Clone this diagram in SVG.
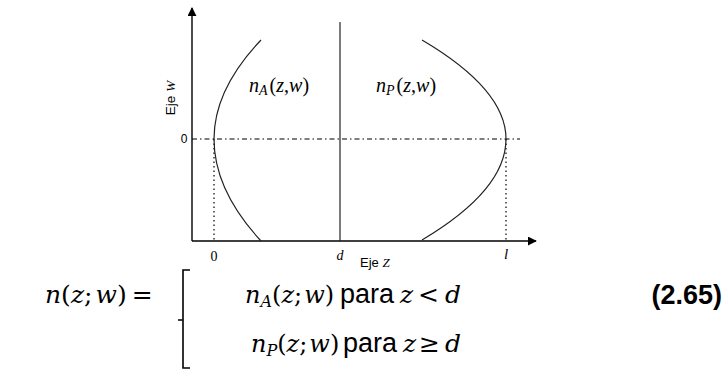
<svg xmlns="http://www.w3.org/2000/svg" width="726" height="379" viewBox="0 0 726 379">
<defs>
<marker id="arr" viewBox="0 0 10 10" refX="9" refY="5" markerWidth="9" markerHeight="9" markerUnits="userSpaceOnUse" orient="auto">
<path d="M0,0 L10,5 L0,10 z" fill="#000"/>
</marker>
</defs>
<style>
.ax{stroke:#000;stroke-width:1.4;fill:none}
.cv{stroke:#222;stroke-width:1.2;fill:none}
.dd{stroke:#000;stroke-width:1.2;fill:none;stroke-dasharray:5 3 1.5 3}
.dt{stroke:#000;stroke-width:1.2;fill:none;stroke-dasharray:1.5 3}
.m{font-family:"Liberation Serif",serif;font-style:italic;fill:#000}
.r{font-family:"Liberation Serif",serif;fill:#000}
.em{font-family:"DejaVu Serif",serif;font-style:italic;fill:#000}
.er{font-family:"DejaVu Serif",serif;fill:#000}
.s{font-family:"Liberation Sans",Arial,sans-serif;fill:#000}
.b{font-family:"Liberation Sans",Arial,sans-serif;font-weight:bold;fill:#000}
</style>
<g id="axes">
<line class="ax" x1="192" y1="241" x2="192" y2="8" marker-end="url(#arr)"/>
<line class="ax" x1="192" y1="241" x2="536" y2="241" marker-end="url(#arr)"/>
<line class="dd" x1="192" y1="139" x2="520" y2="139"/>
<line class="dt" x1="214" y1="139" x2="214" y2="241"/>
<line class="dt" x1="506" y1="139" x2="506" y2="241"/>
<line class="cv" x1="340" y1="22" x2="340" y2="241"/>
</g>
<g id="curveA">
<path class="cv" d="M261,40 Q214,89.5 214,139 Q214,190 261,241"/>
</g>
<g id="curveP">
<path class="cv" d="M422,40 Q506,89.5 506,139 Q506,190 422,240"/>
</g>
<g id="labels">
<text class="s" x="184" y="143" font-size="12" text-anchor="middle">0</text>
<text transform="translate(175,98) rotate(-90)" text-anchor="middle" font-size="13.5"><tspan class="s">Eje </tspan><tspan class="m">W</tspan></text>
<text class="r" x="214" y="261" font-size="14" text-anchor="middle">0</text>
<text class="m" x="340" y="260" font-size="14" text-anchor="middle">d</text>
<text x="360" y="267" font-size="13"><tspan class="s">Eje </tspan><tspan class="m">Z</tspan></text>
<text class="m" x="506" y="259" font-size="15" text-anchor="middle">l</text>
<text x="249" y="92" font-size="20"><tspan class="m">n</tspan><tspan class="m" font-size="14" dy="3">A</tspan><tspan class="r" dy="-3" dx="2">(</tspan><tspan class="m">z</tspan><tspan class="r">,</tspan><tspan class="m">w</tspan><tspan class="r">)</tspan></text>
<text x="376" y="92" font-size="20"><tspan class="m">n</tspan><tspan class="m" font-size="14" dy="3">P</tspan><tspan class="r" dy="-3" dx="2">(</tspan><tspan class="m">z</tspan><tspan class="r">,</tspan><tspan class="m">w</tspan><tspan class="r">)</tspan></text>
</g>
<g id="equation">
<text x="45" y="303" font-size="25"><tspan class="em">n</tspan><tspan class="er">(</tspan><tspan class="em">z</tspan><tspan class="er">;</tspan><tspan class="em" dx="3">w</tspan><tspan class="er">)</tspan><tspan class="er" dx="5">=</tspan></text>
<path d="M190,270 H183 V368 H190 M183,320 H178" stroke="#000" stroke-width="1.6" fill="none"/>
<text x="245" y="303" font-size="24"><tspan class="em">n</tspan><tspan class="em" font-size="16" dy="4">A</tspan><tspan class="er" dy="-4">(</tspan><tspan class="em">z</tspan><tspan class="er">;</tspan><tspan class="em" dx="2">w</tspan><tspan class="er">)</tspan></text>
<text class="s" x="340" y="303" font-size="27">para</text>
<text class="em" x="400" y="303" font-size="25">z</text>
<text class="er" x="418" y="303" font-size="25">&lt;</text>
<text class="em" x="445" y="303" font-size="25">d</text>
<text x="251" y="352" font-size="24"><tspan class="em">n</tspan><tspan class="em" font-size="16" dy="4">P</tspan><tspan class="er" dy="-4">(</tspan><tspan class="em">z</tspan><tspan class="er">;</tspan><tspan class="em" dx="2">w</tspan><tspan class="er">)</tspan></text>
<text class="s" x="343" y="352" font-size="27">para</text>
<text class="em" x="403" y="352" font-size="25">z</text>
<text class="er" x="419" y="352" font-size="25">≥</text>
<text class="em" x="445" y="352" font-size="25">d</text>
<text class="b" x="722" y="304" font-size="27" text-anchor="end">(2.65)</text>
</g>
</svg>
